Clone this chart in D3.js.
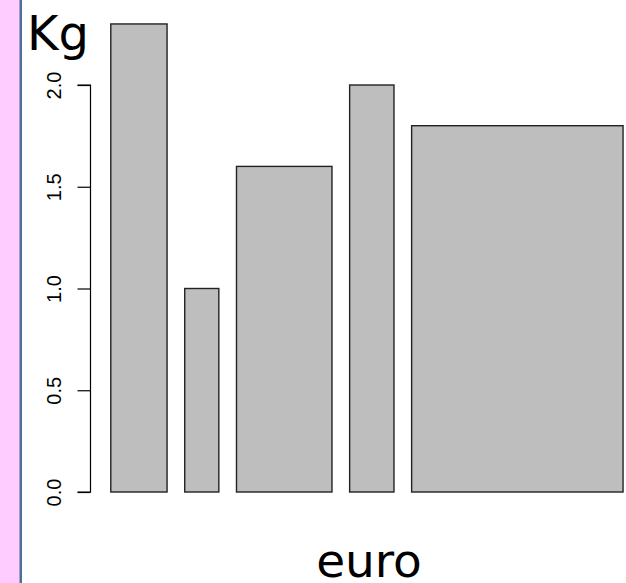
<!DOCTYPE html>
<html>
<head>
<meta charset="utf-8">
<script src="https://cdn.jsdelivr.net/npm/d3@7"></script>
<style>
html,body{margin:0;padding:0;background:#fff;}
svg{display:block;}
</style>
</head>
<body>
<script>
const categories = ["A", "B", "C", "D", "E"];
const values = [2.3, 1.0, 1.6, 2.0, 1.8];
const widths = [1.65, 1.0, 2.8, 1.3, 6.2];
const yTicks = [0, 0.5, 1.0, 1.5, 2.0];
const yTickLabels = ["0.0", "0.5", "1.0", "1.5", "2.0"];

const W = 626, H = 583;
const svg = d3.select("body").append("svg").attr("width", W).attr("height", H);

// left decorative strip
svg.append("rect").attr("x", 0).attr("y", 0).attr("width", 20).attr("height", H).attr("fill", "#ffccff");
svg.append("rect").attr("x", 19.5).attr("y", 0).attr("width", 2.5).attr("height", H).attr("fill", "#4f6c9c");

const space = 0.2 * d3.mean(widths);
let acc = 0;
const bars = categories.map((c, i) => {
  const x0 = acc + space;
  acc = x0 + widths[i];
  return {c, v: values[i], x0, x1: acc};
});

const pxPerUnit = 34.1;
const xStart = 110.8 - space * pxPerUnit;
const x = d3.scaleLinear().domain([0, acc]).range([xStart, xStart + acc * pxPerUnit]);
const y = d3.scaleLinear().domain([0, 2]).range([492, 85]);

svg.selectAll("rect.bar").data(bars).enter().append("rect")
  .attr("class", "bar")
  .attr("x", d => x(d.x0))
  .attr("y", d => y(d.v))
  .attr("width", d => x(d.x1) - x(d.x0))
  .attr("height", d => y(0) - y(d.v))
  .attr("fill", "#bebebe")
  .attr("stroke", "#222")
  .attr("stroke-width", 1.4);

const axis = d3.axisLeft(y).tickValues(yTicks).tickFormat((d, i) => yTickLabels[i]).tickSize(13).tickPadding(0);
const g = svg.append("g").attr("transform", "translate(90.5,0)").call(axis);
g.select(".domain").attr("stroke", "#000").attr("stroke-width", 1.2).attr("d", `M-13,${y(0)}H0V${y(2)}H-13`);
g.selectAll(".tick line").attr("stroke", "#000").attr("stroke-width", 1.2);
g.selectAll(".tick text")
  .attr("font-family", "Liberation Sans, Arial, sans-serif")
  .attr("font-size", 20)
  .attr("fill", "#000")
  .attr("text-anchor", "middle")
  .attr("x", null).attr("dy", null)
  .attr("transform", "translate(-29.5,0) rotate(-90)");

svg.append("text").attr("x", 27).attr("y", 50)
  .attr("font-family", "DejaVu Sans, sans-serif").attr("font-size", 48).attr("fill", "#000")
  .text("Kg");

svg.append("text").attr("x", 369).attr("y", 577).attr("text-anchor", "middle")
  .attr("font-family", "DejaVu Sans, sans-serif").attr("font-size", 47).attr("fill", "#000")
  .text("euro");
</script>
</body>
</html>
